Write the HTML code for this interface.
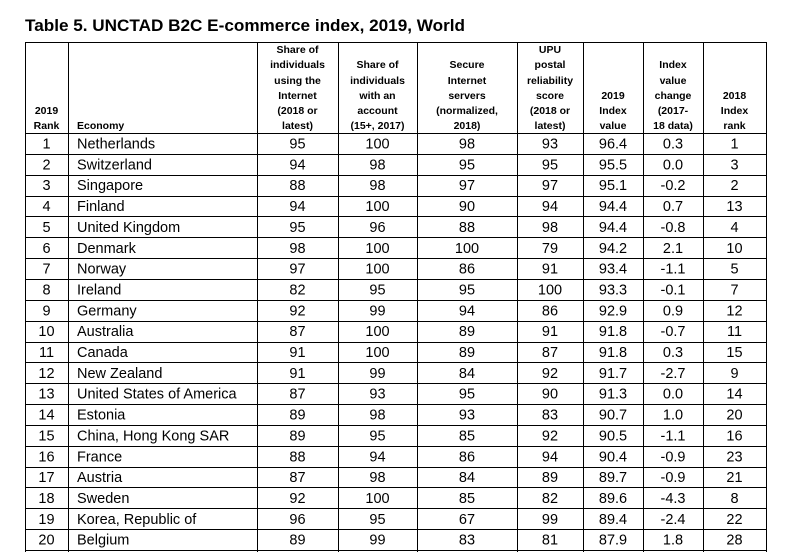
<!DOCTYPE html>
<html><head><meta charset="utf-8"><style>
html,body{margin:0;padding:0;background:#fff;width:800px;height:552px;overflow:hidden}
svg{display:block}
text{font-family:"Liberation Sans",sans-serif;fill:#000}
.h{font-size:10.5px;font-weight:bold;text-anchor:middle}
.hs{font-size:10.5px;font-weight:bold;text-anchor:start}
.d{font-size:14.5px;text-anchor:middle}
.e{font-size:14.5px}
</style></head><body>
<svg width="800" height="552" xmlns="http://www.w3.org/2000/svg" id="s">
<text x="25" y="31" font-size="17" font-weight="bold" textLength="440" lengthAdjust="spacingAndGlyphs">Table 5. UNCTAD B2C E-commerce index, 2019, World</text>
<g id="grid" stroke="#000" stroke-width="1"></g>
<g id="hdr"></g>
<g id="rows"></g>
</svg>
<script>
(function(){
var NS="http://www.w3.org/2000/svg";
function el(p,t,a,txt){var e=document.createElementNS(NS,t);for(var k in a)e.setAttribute(k,a[k]);if(txt!=null)e.textContent=txt;p.appendChild(e);return e;}
var g=document.getElementById('grid'),h=document.getElementById('hdr'),r=document.getElementById('rows');
var xs=[25,68,257,338,417,517,583,643,703,766];
var tp=42,hb=133,rh=20.85;
xs.forEach(function(x){el(g,'line',{x1:x+.5,x2:x+.5,y1:tp,y2:552});});
el(g,'line',{x1:25,x2:766.5,y1:tp+.5,y2:tp+.5});
for(var i=0;i<=20;i++){var y=Math.round(hb+i*rh)+.5;el(g,'line',{x1:25,x2:766.5,y1:y,y2:y});}
var bl=[53,68,84,99,114,129];
var heads=[["2019","Rank"],null,["Share of","individuals","using the","Internet","(2018 or","latest)"],["Share of","individuals","with an","account","(15+, 2017)"],["Secure","Internet","servers","(normalized,","2018)"],["UPU","postal","reliability","score","(2018 or","latest)"],["2019","Index","value"],["Index","value","change","(2017-","18 data)"],["2018","Index","rank"]];
heads.forEach(function(L,c){if(!L)return;var cx=(xs[c]+xs[c+1])/2;var off=6-L.length;L.forEach(function(t,j){el(h,'text',{class:'h',x:cx,y:bl[off+j]},t);});});
el(h,'text',{class:'hs',x:77,y:129},"Economy");
var data=[["Netherlands",95,100,98,93,"96.4","0.3",1],["Switzerland",94,98,95,95,"95.5","0.0",3],["Singapore",88,98,97,97,"95.1","-0.2",2],["Finland",94,100,90,94,"94.4","0.7",13],["United Kingdom",95,96,88,98,"94.4","-0.8",4],["Denmark",98,100,100,79,"94.2","2.1",10],["Norway",97,100,86,91,"93.4","-1.1",5],["Ireland",82,95,95,100,"93.3","-0.1",7],["Germany",92,99,94,86,"92.9","0.9",12],["Australia",87,100,89,91,"91.8","-0.7",11],["Canada",91,100,89,87,"91.8","0.3",15],["New Zealand",91,99,84,92,"91.7","-2.7",9],["United States of America",87,93,95,90,"91.3","0.0",14],["Estonia",89,98,93,83,"90.7","1.0",20],["China, Hong Kong SAR",89,95,85,92,"90.5","-1.1",16],["France",88,94,86,94,"90.4","-0.9",23],["Austria",87,98,84,89,"89.7","-0.9",21],["Sweden",92,100,85,82,"89.6","-4.3",8],["Korea, Republic of",96,95,67,99,"89.4","-2.4",22],["Belgium",89,99,83,81,"87.9","1.8",28]];
data.forEach(function(d,i){var y=hb+i*rh+15.5;
el(r,'text',{class:'d',x:46.5,y:y},i+1);
el(r,'text',{class:'e',x:77,y:y},d[0]);
for(var c=1;c<8;c++){el(r,'text',{class:'d',x:(xs[c+1]+xs[c+2])/2,y:y},d[c]);}
});
})();
</script>
</body></html>
